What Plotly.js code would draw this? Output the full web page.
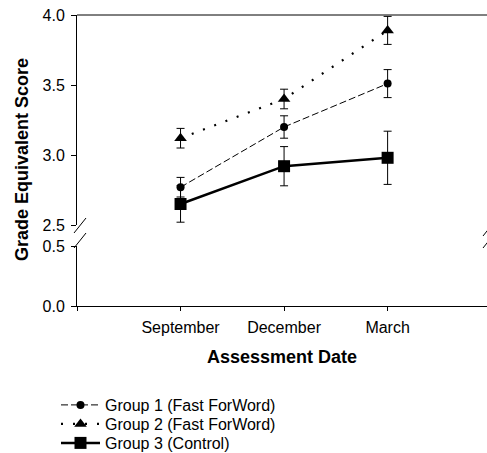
<!DOCTYPE html>
<html>
<head>
<meta charset="utf-8">
<script src="https://cdn.plot.ly/plotly-3.0.1.min.js"></script>
<style>html,body{margin:0;padding:0;background:#fff;}#chart{width:487px;height:453px;}</style>
</head>
<body>
<div id="chart"></div>
<script>
const categories = ['September', 'December', 'March'];
const group1 = [2.77, 3.20, 3.51];
const group1Err = [0.07, 0.08, 0.10];
const group2 = [3.12, 3.40, 3.89];
const group2Err = [0.07, 0.07, 0.10];
const group3 = [2.65, 2.92, 2.98];
const group3Err = [0.13, 0.14, 0.19];
const seriesNames = ['Group 1 (Fast ForWord)', 'Group 2 (Fast ForWord)', 'Group 3 (Control)'];

const xPos = categories.map((c, i) => i + 1);
const FONT = 'Liberation Sans, Arial, sans-serif';

function errs(a) {
  return {type: 'data', array: a, visible: true, color: '#000', thickness: 1, width: 4};
}

const traces = [
  {x: xPos, y: group1, name: seriesNames[0], type: 'scatter', mode: 'lines+markers',
   line: {color: '#000', width: 1, dash: '7px,3px'},
   marker: {symbol: 'circle', size: 8, color: '#000'},
   error_y: errs(group1Err), xaxis: 'x', yaxis: 'y', legend: 'legend'},
  {x: xPos, y: group2, name: seriesNames[1], type: 'scatter', mode: 'lines+markers',
   line: {color: '#000', width: 2.2, dash: '2px,10px'},
   marker: {symbol: 'triangle-up', size: 11, color: '#000'},
   error_y: errs(group2Err), xaxis: 'x', yaxis: 'y', legend: 'legend2'},
  {x: xPos, y: group3, name: seriesNames[2], type: 'scatter', mode: 'lines+markers',
   line: {color: '#000', width: 2.5},
   marker: {symbol: 'square', size: 12, color: '#000'},
   error_y: errs(group3Err), xaxis: 'x', yaxis: 'y', legend: 'legend3'},
  {x: [], y: [], type: 'scatter', mode: 'markers', showlegend: false, hoverinfo: 'skip',
   xaxis: 'x', yaxis: 'y2'}
];

const L = 77, T = 15, PW = 410, PH = 291, W = 487, H = 453;
function px(xp) { return (xp - L) / PW; }
function py(yp) { return (T + PH - yp) / PH; }
const topDomain = [py(225), 1];
const botDomain = [0, py(246)];

function slash(x0, y0, x1, y1) {
  return {type: 'line', xref: 'paper', yref: 'paper', x0: px(x0), y0: py(y0), x1: px(x1), y1: py(y1),
          line: {color: '#000', width: 1}};
}
function leg(yc) {
  return {xref: 'container', yref: 'container', x: 56 / W, y: (H - yc) / H,
          xanchor: 'left', yanchor: 'middle', itemwidth: 39,
          font: {family: FONT, size: 16, color: '#000'}, bgcolor: 'rgba(0,0,0,0)', borderwidth: 0};
}

const layout = {
  width: W, height: H,
  margin: {l: L, r: W - L - PW, t: T, b: H - T - PH, autoexpand: false},
  paper_bgcolor: '#fff', plot_bgcolor: '#fff',
  font: {family: FONT, size: 16, color: '#000'},
  showlegend: true,
  legend: leg(405),
  legend2: leg(424),
  legend3: leg(443),
  xaxis: {
    anchor: 'y2', range: [0, 3.96],
    tickvals: [0].concat(xPos), ticktext: [''].concat(categories),
    showline: true, linecolor: '#000', linewidth: 1,
    ticks: 'outside', ticklen: 4, tickcolor: '#000', tickwidth: 1,
    showgrid: false, zeroline: false,
    tickfont: {family: FONT, size: 16, color: '#000'}, ticklabelstandoff: 3,
    title: {text: '<b>Assessment Date</b>', font: {family: FONT, size: 18, color: '#000'}, standoff: 15}
  },
  yaxis: {
    domain: topDomain, anchor: 'x', range: [2.5, 4.0], tickvals: [2.5, 3.0, 3.5, 4.0],
    tickformat: '.1f',
    showline: true, linecolor: '#000', linewidth: 1,
    ticks: 'outside', ticklen: 5, tickcolor: '#000', tickwidth: 1,
    showgrid: false, zeroline: false,
    tickfont: {family: FONT, size: 16, color: '#000'}, ticklabelstandoff: 3
  },
  yaxis2: {
    domain: botDomain, anchor: 'x', range: [0, 0.5], tickvals: [0, 0.5],
    tickformat: '.1f',
    showline: true, linecolor: '#000', linewidth: 1,
    ticks: 'outside', ticklen: 5, tickcolor: '#000', tickwidth: 1,
    showgrid: false, zeroline: false,
    tickfont: {family: FONT, size: 16, color: '#000'}, ticklabelstandoff: 3
  },
  shapes: [
    {type: 'line', xref: 'paper', yref: 'paper', x0: 0, x1: 1, y0: 1, y1: 1, line: {color: '#000', width: 1}},
    slash(74, 233, 86, 218),
    slash(74, 248, 86, 233),
    slash(483, 236, 495, 221),
    slash(483, 248, 495, 233)
  ],
  annotations: [
    {text: '<b>Grade Equivalent Score</b>', xref: 'paper', yref: 'paper', x: px(22), y: py(160),
     textangle: -90, showarrow: false, xanchor: 'center', yanchor: 'middle',
     font: {family: FONT, size: 18, color: '#000'}}
  ]
};

Plotly.newPlot('chart', traces, layout, {displayModeBar: false, staticPlot: true});
</script>
</body>
</html>
